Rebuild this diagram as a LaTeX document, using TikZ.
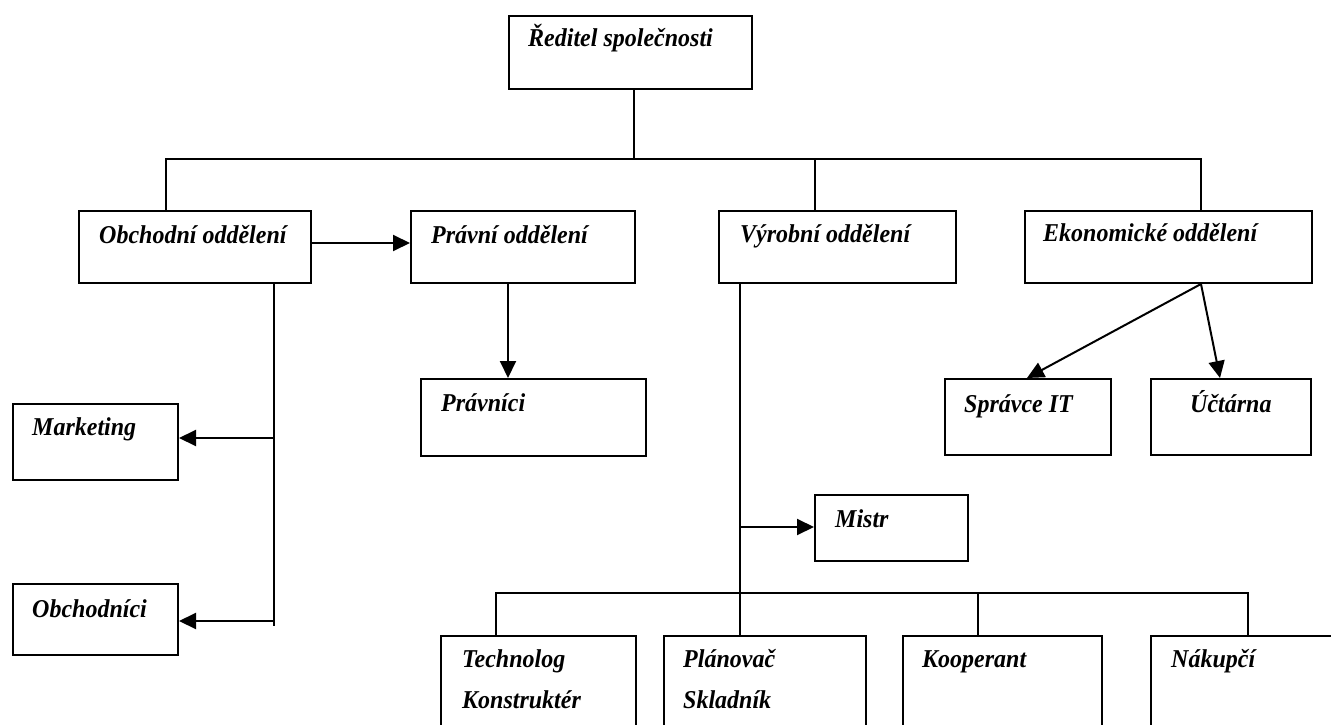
\documentclass[tikz,border=0pt]{standalone}
\usepackage{fontspec}
\setmainfont{Liberation Serif}
\usetikzlibrary{arrows.meta,calc}
\newcommand{\tall}[1]{\scalebox{1}[1.07]{#1}}
\begin{document}
\begin{tikzpicture}[x=1pt,y=-1pt,
  boxst/.style={draw, line width=2pt, anchor=north west, inner sep=0pt},
  lbl/.style={anchor=base west, inner sep=0pt, font=\fontsize{24}{30}\selectfont\bfseries\itshape},
  conn/.style={line width=2pt},
  arr/.style={conn, -{Triangle[length=17pt,width=16pt]}}]
\useasboundingbox (0,0) rectangle (1331,725);
\clip (0,0) rectangle (1331,725);
% boxes
\node[boxst, minimum width=243pt, minimum height=73pt] (dir) at (508,15) {};
\node[boxst, minimum width=232pt, minimum height=72pt] (obch) at (78,210) {};
\node[boxst, minimum width=224pt, minimum height=72pt] (prav) at (410,210) {};
\node[boxst, minimum width=237pt, minimum height=72pt] (vyr) at (718,210) {};
\node[boxst, minimum width=287pt, minimum height=72pt] (ekon) at (1024,210) {};
\node[boxst, minimum width=225pt, minimum height=77pt] (pravn) at (420,378) {};
\node[boxst, minimum width=166pt, minimum height=76pt] (spr) at (944,378) {};
\node[boxst, minimum width=160pt, minimum height=76pt] (uct) at (1150,378) {};
\node[boxst, minimum width=165pt, minimum height=76pt] (mark) at (12,403) {};
\node[boxst, minimum width=153pt, minimum height=66pt] (mistr) at (814,494) {};
\node[boxst, minimum width=165pt, minimum height=71pt] (obchn) at (12,583) {};
\node[boxst, minimum width=195pt, minimum height=125pt] (tech) at (440,635) {};
\node[boxst, minimum width=202pt, minimum height=125pt] (plan) at (663,635) {};
\node[boxst, minimum width=199pt, minimum height=125pt] (koop) at (902,635) {};
\node[boxst, minimum width=210pt, minimum height=125pt] (nak) at (1150,635) {};
% labels
\node[lbl] (tdir) at ($(dir.north west)+(20,32)$) {\tall{Ředitel společnosti}};
\node[lbl] (tobch) at ($(obch.north west)+(21,33)$) {\tall{Obchodní oddělení}};
\node[lbl] (tprav) at ($(prav.north west)+(21,33)$) {\tall{Právní oddělení}};
\node[lbl] (tvyr) at ($(vyr.north west)+(22,32)$) {\tall{Výrobní oddělení}};
\node[lbl] (tekon) at ($(ekon.north west)+(19,31)$) {\tall{Ekonomické oddělení}};
\node[lbl] (tpravn) at ($(pravn.north west)+(21,33)$) {\tall{Právníci}};
\node[lbl] (tspr) at ($(spr.north west)+(20,34)$) {\tall{Správce IT}};
\node[lbl] (tuct) at ($(uct.north west)+(40,34)$) {\tall{Účtárna}};
\node[lbl] (tmark) at ($(mark.north west)+(20,32)$) {\tall{Marketing}};
\node[lbl] (tmistr) at ($(mistr.north west)+(21,33)$) {\tall{Mistr}};
\node[lbl] (tobchn) at ($(obchn.north west)+(20,34)$) {\tall{Obchodníci}};
\node[lbl] (ttech1) at ($(tech.north west)+(22,32)$) {\tall{Technolog}};
\node[lbl] (ttech2) at ($(tech.north west)+(22,73)$) {\tall{Konstruktér}};
\node[lbl] (tplan1) at ($(plan.north west)+(20,32)$) {\tall{Plánovač}};
\node[lbl] (tplan2) at ($(plan.north west)+(20,73)$) {\tall{Skladník}};
\node[lbl] (tkoop) at ($(koop.north west)+(20,32)$) {\tall{Kooperant}};
\node[lbl] (tnak) at ($(nak.north west)+(21,32)$) {\tall{Nákupčí}};
% top bus
\coordinate (busL) at (166,159);
\coordinate (busR) at (1201,159);
\coordinate (vdrop) at (815,159);
\coordinate (ddrop) at (634,159);
\draw[conn] (dir.south -| ddrop) -- (ddrop);
\draw[conn] (obch.north -| busL) -- (busL) -- (busR) -- (ekon.north -| busR);
\draw[conn] (vdrop) -- (vyr.north -| vdrop);
% Obchodni -> Pravni
\draw[arr] ($(obch.north east)+(0,33)$) -- ($(prav.north west)+(0,33)$);
% Obchodni trunk
\coordinate (oT) at (274,626);
\coordinate (oM) at (274,438);
\coordinate (oO) at (274,621);
\draw[conn] (obch.south -| oT) -- (oT);
\draw[arr] (oM) -- (mark.east |- oM);
\draw[arr] (oO) -- (obchn.east |- oO);
% Pravni -> Pravnici
\coordinate (pv) at (508,300);
\draw[arr] (prav.south -| pv) -- (pravn.north -| pv);
% Vyrobni trunk
\coordinate (vT) at (740,300);
\coordinate (vm) at (740,527);
\draw[conn] (vyr.south -| vT) -- (plan.north -| vT);
\draw[arr] (vm) -- (mistr.west |- vm);
% lower bus
\coordinate (b2L) at (496,593);
\coordinate (b2R) at (1248,593);
\coordinate (b2K) at (978,593);
\draw[conn] (tech.north -| b2L) -- (b2L) -- (b2R) -- (nak.north -| b2R);
\draw[conn] (b2K) -- (koop.north -| b2K);
% Ekonomicke -> children
\coordinate (sT) at (1027,378);
\coordinate (uT) at (1220,378);
\draw[arr] (ekon.south -| busR) -- (spr.north -| sT);
\draw[arr] (ekon.south -| busR) -- (uct.north -| uT);
\end{tikzpicture}
\end{document}
